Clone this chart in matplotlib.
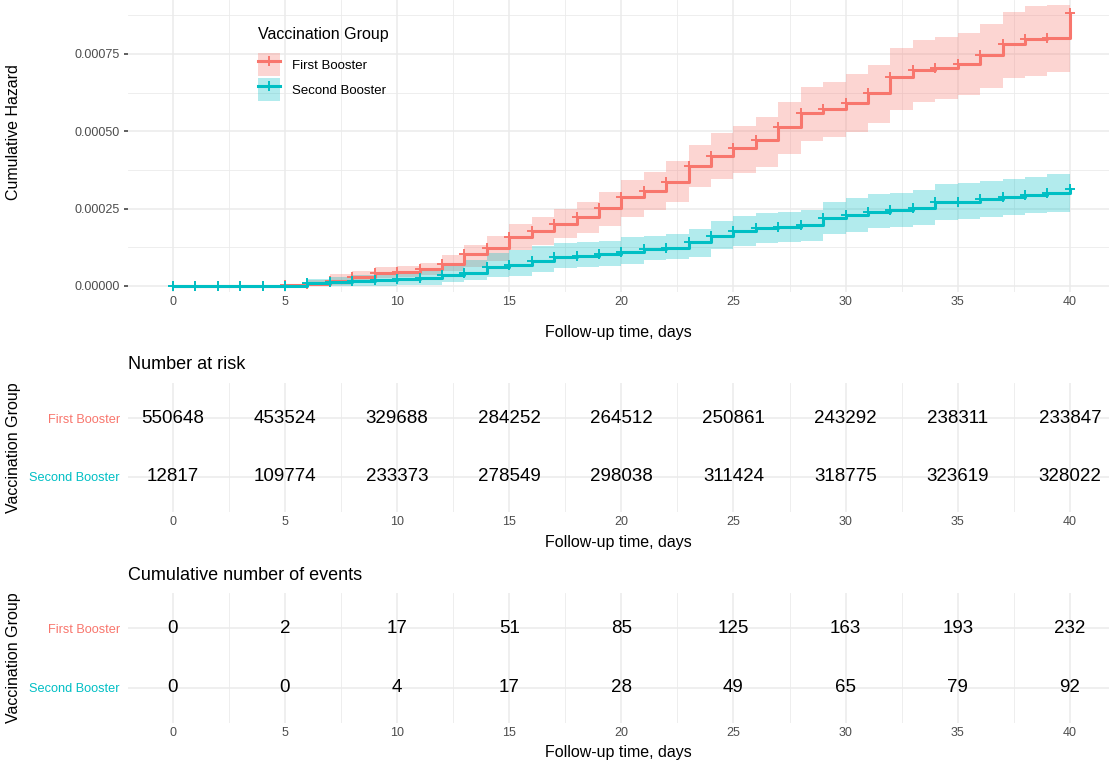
import numpy as np
import matplotlib.pyplot as plt
from matplotlib.lines import Line2D
from matplotlib.patches import Patch
from matplotlib.ticker import MultipleLocator

plt.rcParams['font.family'] = ['Liberation Sans', 'DejaVu Sans']

# cumulative hazard, one step per day (0..40)
days = list(range(41))
first_haz = [0, 0, 0, 0, 0, 0.2e-5, 0.5e-5, 1.7e-5, 3.0e-5, 4.3e-5,
             4.6e-5, 5.4e-5, 7.2e-5, 1.02e-4, 1.24e-4, 1.58e-4, 1.77e-4, 2.0e-4, 2.24e-4, 2.52e-4,
             2.89e-4, 3.07e-4, 3.37e-4, 3.88e-4, 4.2e-4, 4.45e-4, 4.72e-4, 5.13e-4, 5.58e-4, 5.73e-4,
             5.93e-4, 6.23e-4, 6.75e-4, 6.99e-4, 7.04e-4, 7.18e-4, 7.47e-4, 7.83e-4, 7.98e-4, 8.02e-4,
             8.84e-4]
first_upper = [0, 0, 0, 0, 0, 0.5e-5, 2.0e-5, 3.8e-5, 5.0e-5, 6.3e-5,
               6.6e-5, 7.4e-5, 1.0e-4, 1.33e-4, 1.62e-4, 2.0e-4, 2.22e-4, 2.48e-4, 2.73e-4, 3.04e-4,
               3.43e-4, 3.70e-4, 4.04e-4, 4.56e-4, 4.96e-4, 5.17e-4, 5.46e-4, 5.96e-4, 6.43e-4, 6.6e-4,
               6.84e-4, 7.15e-4, 7.69e-4, 7.96e-4, 8.04e-4, 8.17e-4, 8.47e-4, 8.87e-4, 9.06e-4, 9.09e-4,
               9.09e-4]
first_lower = [0, 0, 0, 0, 0, 0, 0, 0.3e-5, 1.6e-5, 2.5e-5,
               3.0e-5, 3.6e-5, 5.0e-5, 6.2e-5, 8.2e-5, 1.16e-4, 1.33e-4, 1.54e-4, 1.7e-4, 1.95e-4,
               2.24e-4, 2.46e-4, 2.71e-4, 3.21e-4, 3.45e-4, 3.64e-4, 3.86e-4, 4.27e-4, 4.69e-4, 4.83e-4,
               4.99e-4, 5.26e-4, 5.69e-4, 5.96e-4, 6.04e-4, 6.18e-4, 6.39e-4, 6.72e-4, 6.79e-4, 6.93e-4,
               6.93e-4]
second_haz = [0, 0, 0, 0, 0, 0, 0.9e-5, 1.4e-5, 1.5e-5, 1.8e-5,
              2.2e-5, 2.5e-5, 3.6e-5, 4.1e-5, 6.2e-5, 6.8e-5, 8.2e-5, 9.3e-5, 9.8e-5, 1.02e-4,
              1.11e-4, 1.2e-4, 1.22e-4, 1.41e-4, 1.62e-4, 1.79e-4, 1.89e-4, 1.92e-4, 1.97e-4, 2.19e-4,
              2.3e-4, 2.4e-4, 2.46e-4, 2.53e-4, 2.72e-4, 2.72e-4, 2.8e-4, 2.87e-4, 2.94e-4, 3.02e-4,
              3.13e-4]
second_upper = [0, 0, 0, 0, 0, 0, 2.3e-5, 3.0e-5, 3.6e-5, 4.3e-5,
                4.6e-5, 5.4e-5, 7.0e-5, 8.4e-5, 1.06e-4, 1.16e-4, 1.29e-4, 1.38e-4, 1.43e-4, 1.46e-4,
                1.57e-4, 1.62e-4, 1.68e-4, 1.84e-4, 2.1e-4, 2.26e-4, 2.35e-4, 2.4e-4, 2.46e-4, 2.73e-4,
                2.84e-4, 2.97e-4, 3.02e-4, 3.1e-4, 3.3e-4, 3.32e-4, 3.41e-4, 3.46e-4, 3.53e-4, 3.62e-4,
                3.62e-4]
second_lower = [0, 0, 0, 0, 0, 0, 0, 0, 0, 0,
                0.3e-5, 0.3e-5, 1.2e-5, 1.9e-5, 2.8e-5, 3.2e-5, 4.6e-5, 5.7e-5, 6.2e-5, 6.6e-5,
                7.1e-5, 8.4e-5, 8.7e-5, 9.5e-5, 1.19e-4, 1.29e-4, 1.38e-4, 1.43e-4, 1.47e-4, 1.68e-4,
                1.76e-4, 1.87e-4, 1.92e-4, 1.97e-4, 2.13e-4, 2.16e-4, 2.22e-4, 2.29e-4, 2.35e-4, 2.4e-4,
                2.4e-4]

# tables
table_times = [0, 5, 10, 15, 20, 25, 30, 35, 40]
risk_first = [550648, 453524, 329688, 284252, 264512, 250861, 243292, 238311, 233847]
risk_second = [12817, 109774, 233373, 278549, 298038, 311424, 318775, 323619, 328022]
events_first = [0, 2, 17, 51, 85, 125, 163, 193, 232]
events_second = [0, 0, 4, 17, 28, 49, 65, 79, 92]

groups = ['First Booster', 'Second Booster']
RED = '#F8766D'
TEAL = '#00BFC4'
GRID = '#EBEBEB'
TICK = '#4D4D4D'

W, H = 1109, 765
fig = plt.figure(figsize=(W / 100, H / 100), dpi=100)


def box(x0, y0, x1, y1):
    # pixel box (top-left origin) -> figure fraction rect
    return [x0 / W, 1 - y1 / H, (x1 - x0) / W, (y1 - y0) / H]


PX_DAY = 22.425
XLIM = (-2, -2 + (W - 128) / PX_DAY)


def style(ax):
    for s in ax.spines.values():
        s.set_visible(False)
    ax.set_axisbelow(True)
    ax.set_xlim(*XLIM)
    ax.xaxis.set_major_locator(MultipleLocator(5))
    ax.xaxis.set_minor_locator(MultipleLocator(2.5))
    ax.grid(which='major', color=GRID, lw=1.1)
    ax.grid(which='minor', axis='x', color=GRID, lw=0.6)
    ax.tick_params(axis='x', which='both', length=0, pad=3, labelsize=9, labelcolor=TICK)


# ---- cumulative hazard panel ----
ax = fig.add_axes(box(128, 0, W, 292))
style(ax)
scale = 232 / 0.00075
ax.set_ylim(-(292 - 286) / scale, 286 / scale)
ax.set_yticks([0, 0.00025, 0.0005, 0.00075])
ax.set_yticklabels(['0.00000', '0.00025', '0.00050', '0.00075'])
ax.yaxis.set_minor_locator(MultipleLocator(0.000125))
ax.grid(which='minor', axis='y', color=GRID, lw=0.6)
ax.tick_params(axis='y', which='major', length=3, width=1.1, color='#333333', pad=3,
               labelsize=9, labelcolor=TICK)
ax.tick_params(axis='y', which='minor', length=0)

series = [(first_haz, first_lower, first_upper, RED),
          (second_haz, second_lower, second_upper, TEAL)]
for haz, lo, up, c in series:
    ax.fill_between(days, lo, up, step='post', color=c, alpha=0.3, lw=0)
for haz, lo, up, c in series:
    ax.step(days, haz, where='post', color=c, lw=2.2)
    ax.plot(days, haz, ls='none', marker='+', ms=6.5, mew=1.4, color=c)

ax.set_xlabel('Follow-up time, days', fontsize=11.5)
ax.xaxis.set_label_coords(0.5, (292 - 332) / 292)
ax.xaxis.label.set_va('center')
ax.set_ylabel('Cumulative Hazard', fontsize=11.5)
ax.yaxis.set_label_coords((14 - 128) / (W - 128), (292 - 132) / 292)
ax.yaxis.label.set_va('center')

handles = [(Patch(facecolor=RED, alpha=0.3, lw=0),
            Line2D([], [], color=RED, lw=2.2, marker='+', ms=6.5, mew=1.4)),
           (Patch(facecolor=TEAL, alpha=0.3, lw=0),
            Line2D([], [], color=TEAL, lw=2.2, marker='+', ms=6.5, mew=1.4))]
leg = ax.legend(handles, groups, title='Vaccination Group', loc='upper left',
                bbox_to_anchor=(258 / W, 1 - 27 / H), bbox_transform=fig.transFigure,
                frameon=False, fontsize=9.5, title_fontsize=11.5, alignment='left',
                handlelength=1.7, handleheight=2.3, handletextpad=0.9,
                labelspacing=0.15, borderpad=0, borderaxespad=0)
leg._legend_box.sep = 8


# ---- tables ----
def table(rect, title, first_vals, second_vals, label_y, title_y):
    t = fig.add_axes(box(*rect))
    style(t)
    t.set_ylim(0.4, 2.6)
    t.set_yticks([2, 1])
    t.set_yticklabels(groups)
    t.tick_params(axis='y', length=0, pad=6, labelsize=9.2)
    for lab, c in zip(t.get_yticklabels(), [RED, TEAL]):
        lab.set_color(c)
    for x, v in zip(table_times, first_vals):
        t.text(x, 2, str(v), ha='center', va='center', fontsize=13.5)
    for x, v in zip(table_times, second_vals):
        t.text(x, 1, str(v), ha='center', va='center', fontsize=13.5)
    y0, y1 = rect[1], rect[3]
    t.set_xlabel('Follow-up time, days', fontsize=11.5)
    t.xaxis.set_label_coords(0.5, (y1 - label_y) / (y1 - y0))
    t.xaxis.label.set_va('center')
    t.set_ylabel('Vaccination Group', fontsize=11.5)
    t.yaxis.set_label_coords((14 - 128) / (W - 128), 0.5)
    t.yaxis.label.set_va('center')
    t.text(0, (y1 - title_y) / (y1 - y0), title, transform=t.transAxes,
           ha='left', va='center', fontsize=13)
    return t


table((128, 383, W, 512), 'Number at risk', risk_first, risk_second, 542, 365)
table((128, 593, W, 723), 'Cumulative number of events', events_first, events_second, 753, 575)

fig.savefig('out.png', dpi=100)
